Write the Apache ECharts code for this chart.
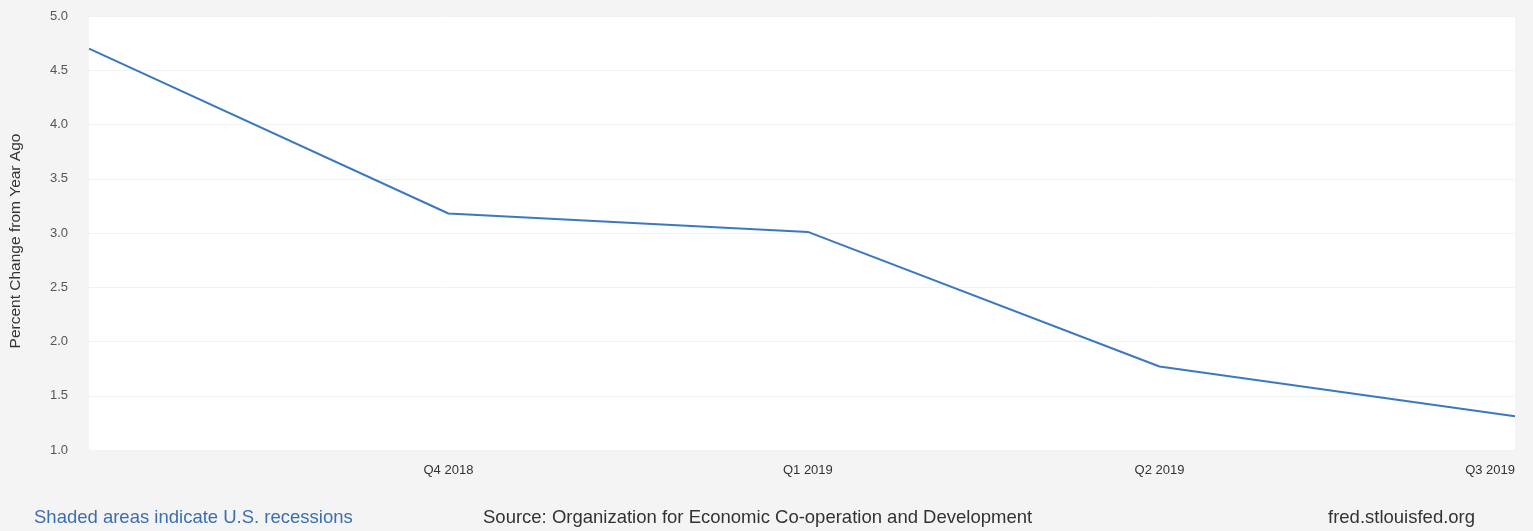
<!DOCTYPE html>
<html>
<head>
<meta charset="utf-8">
<script src="https://cdn.jsdelivr.net/npm/echarts@6/dist/echarts.min.js"></script>
<style>
  html, body { margin: 0; padding: 0; background: #f4f4f5; }
  #chart { width: 1533px; height: 531px; }
</style>
</head>
<body>
<div id="chart"></div>
<script>
// Quarterly observations (start date of each quarter) and year-over-year % change
const quarterDates = ['2018-07-01', '2018-10-01', '2019-01-01', '2019-04-01', '2019-07-01'];
const quarterLabels = ['Q3 2018', 'Q4 2018', 'Q1 2019', 'Q2 2019', 'Q3 2019'];
const pctChange = [4.70, 3.18, 3.01, 1.77, 1.31];
const labelledQuarters = ['Q4 2018', 'Q1 2019', 'Q2 2019', 'Q3 2019'];
const yTicks = [1.0, 1.5, 2.0, 2.5, 3.0, 3.5, 4.0, 4.5, 5.0];
const yAxisTitle = 'Percent Change from Year Ago';

const DAY = 86400000;
const t0 = Date.parse(quarterDates[0]);
const dayOffset = d => Math.round((Date.parse(d) - t0) / DAY);
const xs = quarterDates.map(dayOffset);
const labelByDay = {};
xs.forEach((x, i) => { labelByDay[x] = quarterLabels[i]; });
const labelDays = labelledQuarters.map(q => xs[quarterLabels.indexOf(q)]);

const FONT = 'Liberation Sans, Arial, sans-serif';
const chart = echarts.init(document.getElementById('chart'), null, { renderer: 'canvas' });
chart.setOption({
  backgroundColor: '#f4f4f5',
  animation: false,
  textStyle: { fontFamily: FONT },
  grid: { left: 89, right: 18, top: 16, bottom: 81, show: true, backgroundColor: '#ffffff', borderWidth: 0 },
  xAxis: {
    type: 'value',
    min: xs[0],
    max: xs[xs.length - 1],
    axisLine: { show: false },
    axisTick: { show: false },
    splitLine: { show: false },
    axisLabel: {
      customValues: labelDays,
      formatter: v => labelByDay[v] || '',
      color: '#333',
      fontSize: 13,
      margin: 14,
      alignMaxLabel: 'right'
    }
  },
  yAxis: {
    type: 'value',
    min: yTicks[0],
    max: yTicks[yTicks.length - 1],
    interval: 0.5,
    axisLine: { show: false },
    axisTick: { show: false },
    axisLabel: { formatter: v => v.toFixed(1), color: '#555', fontSize: 13, margin: 21 },
    splitLine: { show: true, lineStyle: { color: '#f2f2f2', width: 1 } }
  },
  series: [{
    type: 'line',
    data: xs.map((x, i) => [x, pctChange[i]]),
    showSymbol: false,
    lineStyle: { color: '#3c78be', width: 2 },
    itemStyle: { color: '#3c78be' }
  }],
  graphic: [{
    type: 'text',
    x: 16, y: 241,
    rotation: Math.PI / 2,
    style: {
      text: yAxisTitle, fill: '#333', font: '15.5px ' + FONT,
      align: 'center', verticalAlign: 'middle'
    }
  }],
  title: [
    { text: 'Shaded areas indicate U.S. recessions', left: 34, top: 508, padding: 0,
      textStyle: { color: '#3b6fae', fontSize: 18.5, fontWeight: 'normal' } },
    { text: 'Source: Organization for Economic Co-operation and Development', left: 483, top: 508, padding: 0,
      textStyle: { color: '#333', fontSize: 18.5, fontWeight: 'normal' } },
    { text: 'fred.stlouisfed.org', left: 1328, top: 508, padding: 0,
      textStyle: { color: '#333', fontSize: 18.5, fontWeight: 'normal' } }
  ]
});
</script>
</body>
</html>
